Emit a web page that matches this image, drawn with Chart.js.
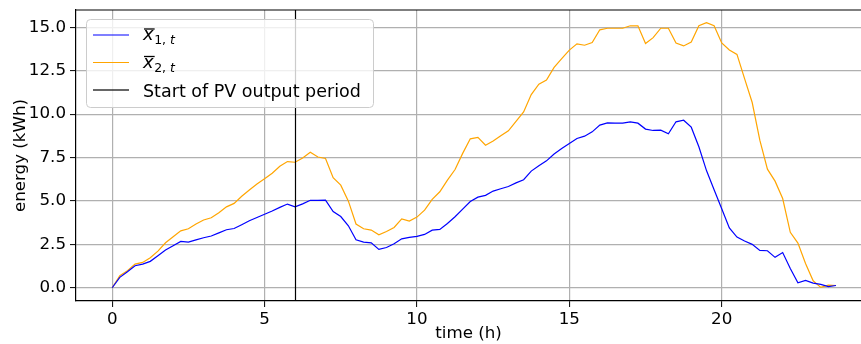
<!DOCTYPE html>
<html>
<head>
<meta charset="utf-8">
<script src="https://cdn.jsdelivr.net/npm/chart.js@4.4.0/dist/chart.umd.min.js"></script>
<style>
  html, body { margin: 0; padding: 0; background: #fff; overflow: hidden; }
</style>
</head>
<body>
<canvas id="energyChart" width="861" height="344"></canvas>
<script>
// Time of day (h), quarter-hour steps
const hours = [
    0, 0.25, 0.5, 0.75, 1, 1.25, 1.5, 1.75,
    2, 2.25, 2.5, 2.75, 3, 3.25, 3.5, 3.75,
    4, 4.25, 4.5, 4.75, 5, 5.25, 5.5, 5.75,
    6, 6.25, 6.5, 6.75, 7, 7.25, 7.5, 7.75,
    8, 8.25, 8.5, 8.75, 9, 9.25, 9.5, 9.75,
    10, 10.25, 10.5, 10.75, 11, 11.25, 11.5, 11.75,
    12, 12.25, 12.5, 12.75, 13, 13.25, 13.5, 13.75,
    14, 14.25, 14.5, 14.75, 15, 15.25, 15.5, 15.75,
    16, 16.25, 16.5, 16.75, 17, 17.25, 17.5, 17.75,
    18, 18.25, 18.5, 18.75, 19, 19.25, 19.5, 19.75,
    20, 20.25, 20.5, 20.75, 21, 21.25, 21.5, 21.75,
    22, 22.25, 22.5, 22.75, 23, 23.25, 23.5, 23.75
];

// Mean stored energy, unit 1 (kWh)
const energyUnit1 = [
    0, 0.6, 0.92, 1.27, 1.36, 1.52, 1.84, 2.17,
    2.42, 2.67, 2.63, 2.76, 2.88, 2.98, 3.16, 3.34,
    3.41, 3.63, 3.86, 4.05, 4.23, 4.42, 4.63, 4.82,
    4.66, 4.83, 5.04, 5.03, 5.05, 4.39, 4.1, 3.57,
    2.76, 2.63, 2.59, 2.21, 2.32, 2.53, 2.82, 2.9,
    2.96, 3.07, 3.32, 3.36, 3.7, 4.09, 4.53, 4.97,
    5.22, 5.32, 5.57, 5.7, 5.83, 6.04, 6.22, 6.72,
    7.03, 7.31, 7.7, 8.02, 8.31, 8.6, 8.73, 8.98,
    9.37, 9.5, 9.48, 9.48, 9.56, 9.48, 9.14, 9.06,
    9.08, 8.87, 9.56, 9.65, 9.25, 8.12, 6.75, 5.65,
    4.55, 3.45, 2.92, 2.69, 2.5, 2.15, 2.13, 1.75,
    2.03, 1.11, 0.29, 0.42, 0.27, 0.19, 0.06, 0.13
];

// Mean stored energy, unit 2 (kWh)
const energyUnit2 = [
    0, 0.69, 0.98, 1.36, 1.46, 1.73, 2.11, 2.59,
    2.94, 3.28, 3.4, 3.67, 3.9, 4.03, 4.32, 4.66,
    4.86, 5.27, 5.63, 5.97, 6.28, 6.6, 7.0, 7.27,
    7.23, 7.47, 7.81, 7.53, 7.45, 6.34, 5.91, 4.99,
    3.67, 3.4, 3.32, 3.05, 3.24, 3.47, 3.97, 3.84,
    4.07, 4.47, 5.09, 5.53, 6.2, 6.81, 7.74, 8.58,
    8.66, 8.21, 8.45, 8.75, 9.04, 9.58, 10.13, 11.13,
    11.73, 11.96, 12.69, 13.2, 13.69, 14.05, 13.97, 14.13,
    14.86, 14.95, 14.95, 14.95, 15.09, 15.09, 14.07, 14.41,
    14.95, 14.95, 14.1, 13.93, 14.16, 15.09, 15.27, 15.09,
    14.1, 13.7, 13.44, 12.05, 10.67, 8.5, 6.83, 6.14,
    5.14, 3.19, 2.57, 1.4, 0.4, 0.02, 0.15, 0.13
];

const pvStartHour = 6;

const xTicks = [0, 5, 10, 15, 20];
const yTicks = [0, 2.5, 5, 7.5, 10, 12.5, 15];

const FONT = 'DejaVu Sans';

function toPoints(series) {
    return hours.map((h, i) => ({ x: h, y: series[i] }));
}

// Vertical marker for the start of the PV output period, plus top spine
const pvStartLine = {
    id: 'pvStartLine',
    afterDatasetsDraw(chart) {
        const { ctx, chartArea, scales } = chart;
        const x = Math.round(scales.x.getPixelForValue(pvStartHour)) + 0.5;
        ctx.save();
        ctx.strokeStyle = '#000';
        ctx.lineWidth = 1.2;
        ctx.beginPath();
        ctx.moveTo(x, chartArea.top);
        ctx.lineTo(x, chartArea.bottom);
        ctx.stroke();
        ctx.beginPath();
        ctx.moveTo(chartArea.left, chartArea.top);
        ctx.lineTo(chartArea.right + 2, chartArea.top);
        ctx.stroke();
        ctx.restore();
    }
};

// Legend box with overlined symbols and subscripts
const mathLegend = {
    id: 'mathLegend',
    afterDraw(chart) {
        const ctx = chart.ctx;
        const box = { x: 86, y: 19, w: 287, h: 88, r: 4 };
        ctx.save();
        ctx.beginPath();
        ctx.roundRect(box.x + 0.5, box.y + 0.5, box.w, box.h, box.r);
        ctx.fillStyle = 'rgba(255,255,255,0.8)';
        ctx.fill();
        ctx.strokeStyle = '#cccccc';
        ctx.lineWidth = 1;
        ctx.stroke();

        const entries = [
            { color: 'blue', sym: '1', y: 35 },
            { color: 'orange', sym: '2', y: 62.5 },
            { color: '#000', text: 'Start of PV output period', y: 90 }
        ];
        const textX = 143;
        entries.forEach(e => {
            ctx.strokeStyle = e.color;
            ctx.globalAlpha = e.text ? 0.6 : 1;
            ctx.lineWidth = e.text ? 2 : 1.2;
            ctx.beginPath();
            ctx.moveTo(93, e.y);
            ctx.lineTo(129, e.y);
            ctx.stroke();
            ctx.globalAlpha = 1;
            ctx.fillStyle = '#000';
            ctx.textBaseline = 'alphabetic';
            if (e.text) {
                ctx.font = `17.5px "${FONT}"`;
                ctx.fillText(e.text, textX, e.y + 6.5);
            } else {
                ctx.font = `italic 18px "${FONT}"`;
                const xw = ctx.measureText('x').width;
                ctx.fillText('x', textX, e.y + 5);
                ctx.lineWidth = 1.3;
                ctx.strokeStyle = '#000';
                ctx.beginPath();
                ctx.moveTo(textX + 1, e.y - 6);
                ctx.lineTo(textX + xw + 1, e.y - 6);
                ctx.stroke();
                let sx = textX + xw + 0.5;
                ctx.font = `12.5px "${FONT}"`;
                ctx.fillText(e.sym + ',', sx, e.y + 9);
                sx += ctx.measureText(e.sym + ', ').width;
                ctx.font = `italic 12.5px "${FONT}"`;
                ctx.fillText('t', sx, e.y + 9);
            }
        });
        ctx.restore();
    }
};

const ctx = document.getElementById('energyChart').getContext('2d');

new Chart(ctx, {
    type: 'line',
    data: {
        datasets: [
            {
                label: 'unit 1',
                data: toPoints(energyUnit1),
                borderColor: 'blue',
                borderWidth: 1.2,
                pointRadius: 0,
                fill: false
            },
            {
                label: 'unit 2',
                data: toPoints(energyUnit2),
                borderColor: 'orange',
                borderWidth: 1.2,
                pointRadius: 0,
                fill: false
            }
        ]
    },
    options: {
        responsive: false,
        animation: false,
        devicePixelRatio: 1,
        layout: { padding: { top: 10, right: 0, left: 0, bottom: 0 } },
        plugins: {
            legend: { display: false },
            tooltip: { enabled: false }
        },
        scales: {
            x: {
                type: 'linear',
                min: -1.1875,
                max: 24.57,
                afterBuildTicks: scale => { scale.ticks = xTicks.map(v => ({ value: v })); },
                afterFit: scale => {
                    scale.height = 43;
                    scale.paddingRight = 0;
                },
                grid: {
                    color: '#b0b0b0',
                    lineWidth: 1.2,
                    tickColor: '#000',
                    tickLength: 6,
                    tickWidth: 1
                },
                border: { color: '#000', width: 1.2 },
                ticks: {
                    color: '#000',
                    padding: 3,
                    maxRotation: 0,
                    font: { family: FONT, size: 16.7 }
                },
                title: {
                    display: true,
                    text: 'time (h)',
                    color: '#000',
                    padding: { top: 0, bottom: 0 },
                    font: { family: FONT, size: 16.7 }
                }
            },
            y: {
                type: 'linear',
                min: -0.764,
                max: 16.0,
                afterBuildTicks: scale => { scale.ticks = yTicks.map(v => ({ value: v })); },
                afterFit: scale => {
                    scale.width = 76;
                    scale.paddingTop = 0;
                    scale.paddingBottom = 0;
                },
                grid: {
                    color: '#b0b0b0',
                    lineWidth: 1.2,
                    tickColor: '#000',
                    tickLength: 6,
                    tickWidth: 1
                },
                border: { color: '#000', width: 1.2 },
                ticks: {
                    color: '#000',
                    padding: 4,
                    callback: v => v.toFixed(1),
                    font: { family: FONT, size: 16.7 }
                },
                title: {
                    display: true,
                    text: 'energy (kWh)',
                    color: '#000',
                    padding: { top: 11, bottom: 4 },
                    font: { family: FONT, size: 16.7 }
                }
            }
        }
    },
    plugins: [pvStartLine, mathLegend]
});
</script>
</body>
</html>
